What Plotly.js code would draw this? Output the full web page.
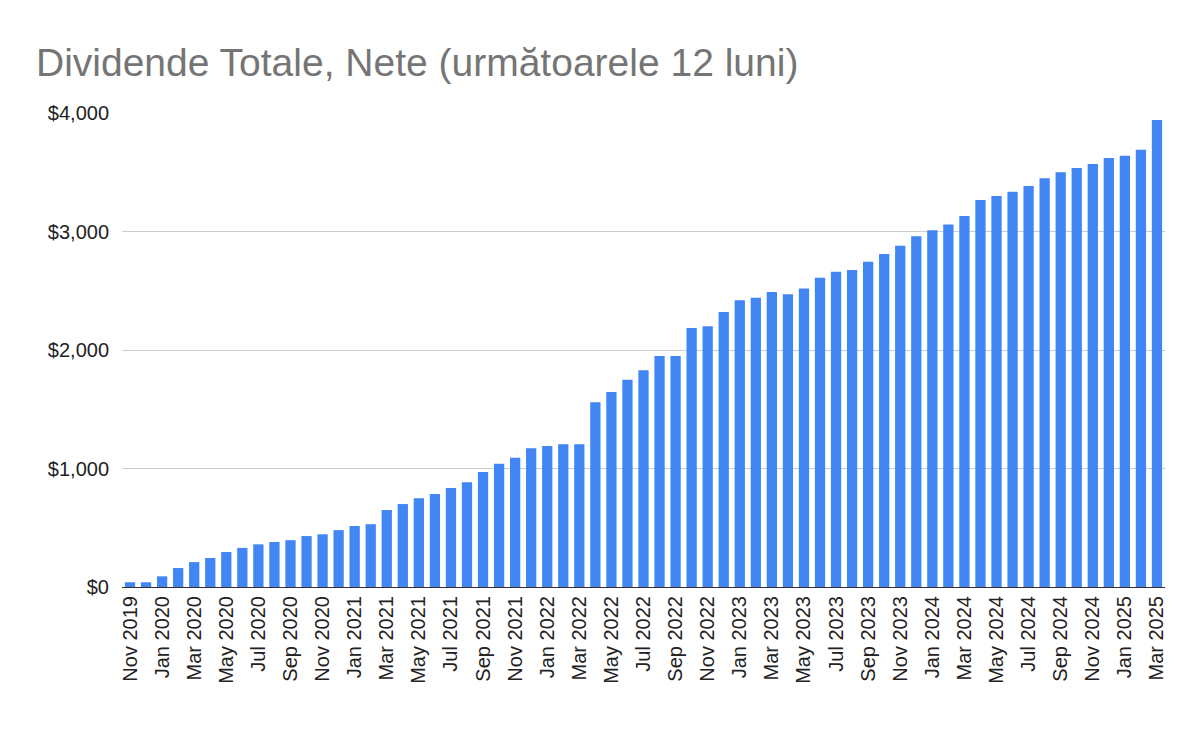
<html>
<head>
<meta charset="UTF-8">
<script src="https://cdn.plot.ly/plotly-3.0.1.min.js"></script>
</head>
<body style="margin:0">
<div id="plot" style="width:1200px;height:742px"></div>
<script>
const months = ['Jan','Feb','Mar','Apr','May','Jun','Jul','Aug','Sep','Oct','Nov','Dec'];
const startYear = 2019, startMonth = 10, count = 65;
const labels = [];
for (let i = 0; i < count; i++) {
    const m = (startMonth + i) % 12;
    const y = startYear + Math.floor((startMonth + i) / 12);
    labels.push(months[m] + ' ' + y);
}
const values = [40, 40, 90, 160, 210, 245, 295, 330, 360, 380, 395, 430, 445, 480, 515, 530,
    650, 700, 750, 785, 835, 885, 970, 1040, 1090, 1170, 1190, 1205, 1205,
    1560, 1645, 1750, 1830, 1950, 1950, 2185, 2200, 2320, 2420, 2440, 2490, 2470, 2520,
    2610, 2660, 2675, 2745, 2810, 2880, 2960, 3010, 3060, 3130, 3265, 3300, 3335, 3385,
    3450, 3500, 3535, 3570, 3620, 3640, 3690, 3940];
const shownTicks = labels.filter((l, i) => i % 2 === 0);

Plotly.newPlot('plot', [{
    x: labels,
    y: values,
    type: 'bar',
    marker: { color: '#4285f4' }
}], {
    width: 1200, height: 742,
    font: { family: 'Liberation Sans, Arial', size: 20, color: '#222' },
    title: { text: 'Dividende Totale, Nete (următoarele 12 luni)', x: 0.03, xanchor: 'left', y: 0.935,
        font: { size: 39, color: '#757575' } },
    margin: { l: 122, r: 35, t: 113, b: 155 },
    bargap: 0.36,
    xaxis: { type: 'category', tickmode: 'array', tickvals: shownTicks, ticktext: shownTicks,
        tickangle: -90, showgrid: false, showline: true, linecolor: '#333', ticks: '' },
    yaxis: { range: [0, 4000], tickvals: [0, 1000, 2000, 3000, 4000],
        ticktext: ['$0', '$1,000', '$2,000', '$3,000', '$4,000'],
        gridcolor: '#ccc', zeroline: false, ticklen: 8, tickcolor: 'white' },
    plot_bgcolor: 'white', paper_bgcolor: 'white'
}, { staticPlot: true });
</script>
</body>
</html>
